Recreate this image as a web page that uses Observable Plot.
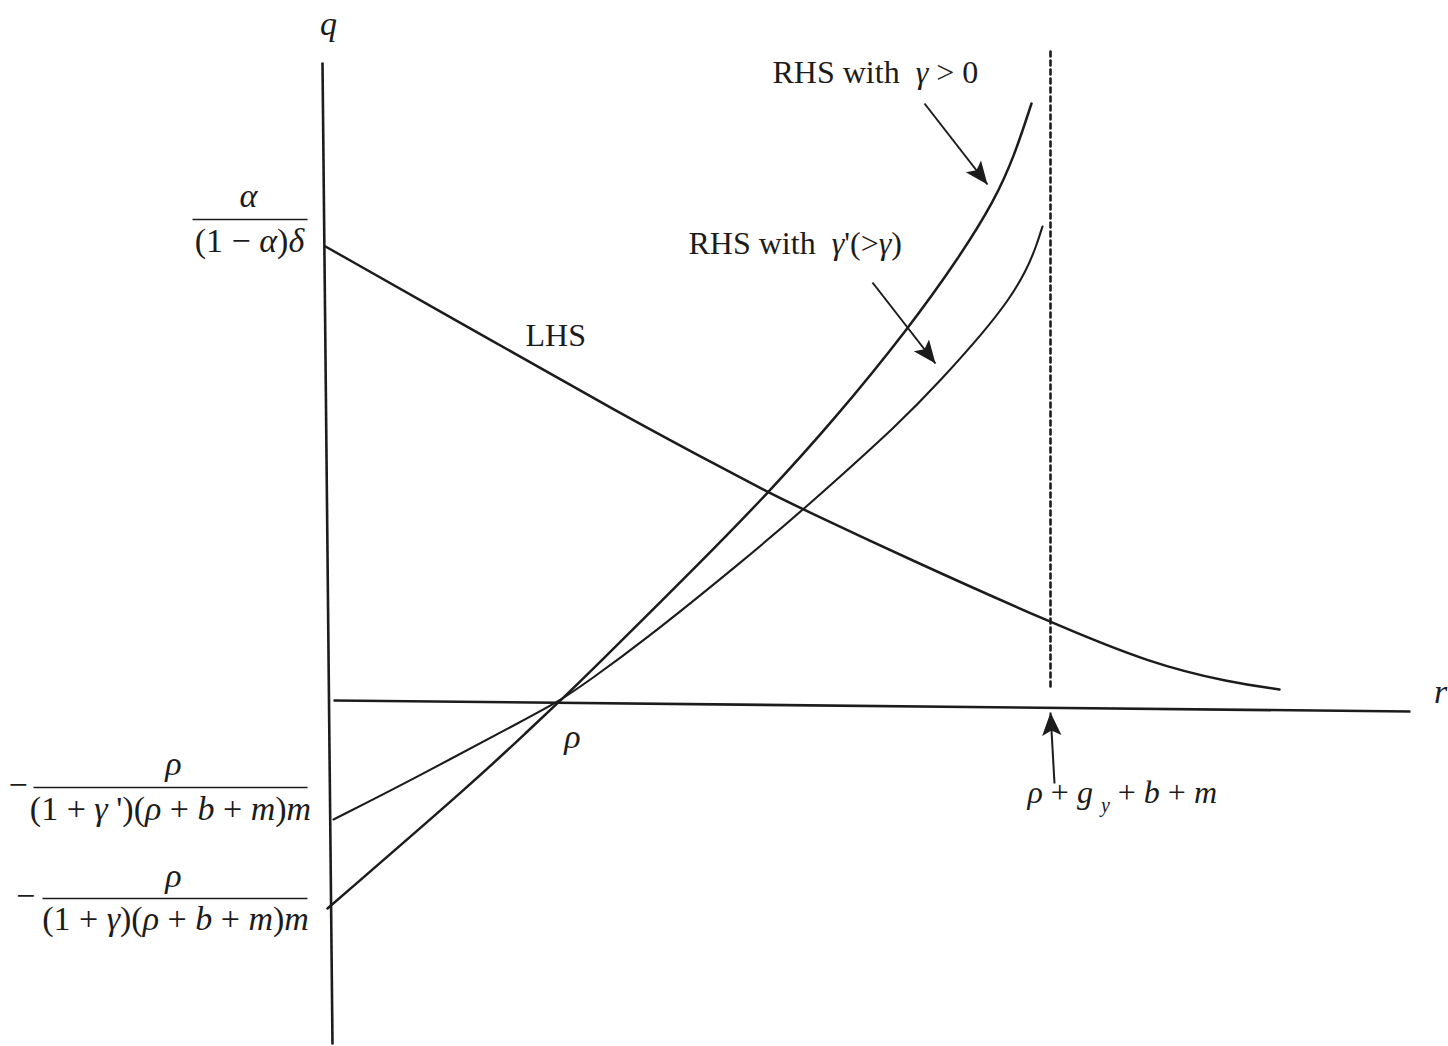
<!DOCTYPE html>
<html><head><meta charset="utf-8">
<script src="https://cdn.jsdelivr.net/npm/d3@7"></script>
<script src="https://cdn.jsdelivr.net/npm/@observablehq/plot@0.6"></script>
<style>html,body{margin:0;padding:0;background:#fff}</style>
</head><body><div id="chart"></div>
<script>
// ---- data (diagram units: r to the right, q upward, origin at the axes' crossing) ----
const qAxisR = [-0.08, 0.02];
const qAxisQ = [6.38, -3.44];
const rAxisR = [0.03, 10.80];
const rAxisQ = [0.00, -0.11];

const lhsR = [-0.05, 1.70, 2.90, 3.70, 4.38, 4.73, 5.77, 7.20, 8.20, 9.00, 9.49];
const lhsQ = [4.54, 3.55, 2.87, 2.44, 2.08, 1.91, 1.42, 0.78, 0.37, 0.18, 0.11];

const rhs1R = [-0.03, 1.45, 2.00, 2.30, 2.60, 3.72, 4.38, 5.03, 5.78, 6.30, 6.64, 6.84, 7.01];
const rhs1Q = [-2.08, -0.80, -0.28, 0.00, 0.29, 1.40, 2.08, 2.80, 3.72, 4.45, 5.00, 5.45, 5.97];

const rhs2R = [0.03, 0.80, 2.00, 2.30, 2.60, 3.10, 4.13, 4.73, 5.72, 6.10, 6.52, 6.78, 6.96, 7.06, 7.12];
const rhs2Q = [-1.19, -0.80, -0.16, 0.00, 0.21, 0.57, 1.40, 1.91, 2.80, 3.20, 3.67, 4.00, 4.30, 4.55, 4.74];

const boundR = 7.20;              // rho + g_y + b + m
const boundQ = [6.49, 0.12];

const arrowFromR = [5.94, 5.42, 7.24];
const arrowFromQ = [5.97, 4.18, -0.83];
const arrowToR   = [6.57, 6.05, 7.20];
const arrowToQ   = [5.16, 3.37, -0.12];

// fraction bars of the q-axis labels
const barR1 = [-1.38, -2.97, -2.88];
const barR2 = [-0.23, -0.23, -0.23];
const barQ  = [4.81, -0.87, -1.98];

// labels (*..* = italic, _{..} = subscript)
const wordText = ["LHS", "RHS with  *γ* > 0", "RHS with  *γ*'(>*γ*)", "*ρ* + *g* _{y} + *b* + *m*"];
const wordR = [1.95, 4.42, 3.58, 6.97];
const wordQ = [3.65, 6.28, 4.57, -0.92];

const mathText = ["*q*", "*r*", "*ρ*",
  "*α*", "(1 − *α*)*δ*",
  "−", "*ρ*", "(1 + *γ* ')(*ρ* + *b* + *m*)*m*",
  "−", "*ρ*", "(1 + *γ*)(*ρ* + *b* + *m*)*m*"];
const mathR = [-0.02, 11.10, 2.42, -0.82, -0.81, -3.125, -1.57, -1.60, -3.05, -1.57, -1.55];
const mathQ = [6.76, 0.08, -0.37, 5.04, 4.59, -0.846, -0.64, -1.09, -1.956, -1.76, -2.19];

// ---- tables built from the arrays ----
const pts = (R, Q) => R.map((r, i) => ({r, q: Q[i]}));
const axes = [
  {r1: qAxisR[0], q1: qAxisQ[0], r2: qAxisR[1], q2: qAxisQ[1]},
  {r1: rAxisR[0], q1: rAxisQ[0], r2: rAxisR[1], q2: rAxisQ[1]}
];
const arrows = arrowFromR.map((r, i) => ({
  r1: r, q1: arrowFromQ[i], r2: arrowToR[i], q2: arrowToQ[i],
  angle: Math.atan2(arrowToR[i] - r, arrowToQ[i] - arrowFromQ[i]) * 180 / Math.PI
}));
const bars = barR1.map((r, i) => ({r1: r, r2: barR2[i], q: barQ[i]}));
const words = wordText.map((t, i) => ({t, r: wordR[i], q: wordQ[i]}));
const maths = mathText.map((t, i) => ({t, r: mathR[i], q: mathQ[i]}));
const bound = [{r: boundR, q: boundQ[0]}, {r: boundR, q: boundQ[1]}];

const headSymbol = {
  draw(ctx, size) {
    const L = Math.sqrt(size / Math.PI);
    const w = 0.42 * L;
    ctx.moveTo(0, 0);
    ctx.lineTo(-w, L);
    ctx.lineTo(0, 0.78 * L);
    ctx.lineTo(w, L);
    ctx.closePath();
  }
};

const ink = "#1c1c1c";
const chart = Plot.plot({
  width: 1448, height: 1046, margin: 0,
  x: {domain: [-3.30, 11.18], axis: null},
  y: {domain: [-3.46, 7.00], axis: null},
  style: {fontFamily: "'Liberation Serif', 'Times New Roman', serif", background: "white", color: ink},
  marks: [
    Plot.link(axes, {x1: "r1", y1: "q1", x2: "r2", y2: "q2", stroke: ink, strokeWidth: 2.6}),
    Plot.line(pts(lhsR, lhsQ), {x: "r", y: "q", curve: "basis", stroke: ink, strokeWidth: 2.5}),
    Plot.line(pts(rhs1R, rhs1Q), {x: "r", y: "q", curve: "basis", stroke: ink, strokeWidth: 2.5}),
    Plot.line(pts(rhs2R, rhs2Q), {x: "r", y: "q", curve: "basis", stroke: ink, strokeWidth: 2.1}),
    Plot.line(bound, {x: "r", y: "q", stroke: ink, strokeWidth: 2.6, strokeDasharray: "5,4"}),
    Plot.link(arrows, {x1: "r1", y1: "q1", x2: "r2", y2: "q2", stroke: ink, strokeWidth: 2}),
    Plot.dot(arrows, {x: "r2", y: "q2", rotate: "angle", symbol: headSymbol, r: 23, fill: ink, stroke: "none"}),
    Plot.link(bars, {x1: "r1", x2: "r2", y1: "q", y2: "q", stroke: ink, strokeWidth: 1.6}),
    Plot.text(words, {x: "r", y: "q", text: "t", textAnchor: "start", fontSize: 32, fill: ink}),
    Plot.text(maths, {x: "r", y: "q", text: "t", textAnchor: "middle", fontSize: 34, fill: ink})
  ]
});

// turn *italic* and _{sub} markers into tspans
function richify(svg) {
  const NS = "http://www.w3.org/2000/svg";
  svg.querySelectorAll("text").forEach(t => {
    const s = t.textContent;
    if (!/[*_]/.test(s)) return;
    while (t.firstChild) t.removeChild(t.firstChild);
    const re = /\*([^*]+)\*|_\{([^}]+)\}|([^*_]+)/g;
    let m, pending = 0;
    while ((m = re.exec(s))) {
      const ts = document.createElementNS(NS, "tspan");
      if (m[1] !== undefined) { ts.textContent = m[1]; ts.setAttribute("font-style", "italic"); }
      else if (m[2] !== undefined) {
        ts.textContent = m[2]; ts.setAttribute("font-style", "italic");
        ts.setAttribute("font-size", "20"); ts.setAttribute("dy", "9"); pending = -9;
        t.appendChild(ts); continue;
      } else ts.textContent = m[3];
      if (pending) { ts.setAttribute("dy", String(pending)); pending = 0; }
      t.appendChild(ts);
    }
  });
}
richify(chart);
document.getElementById("chart").appendChild(chart);
</script></body></html>
